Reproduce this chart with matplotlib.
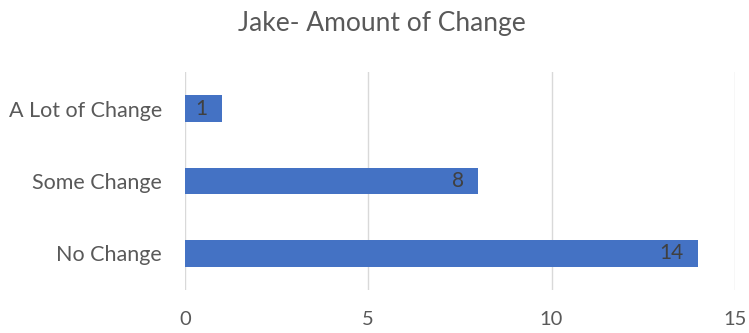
import matplotlib.pyplot as plt

categories = ['No Change', 'Some Change', 'A Lot of Change']
counts = [14, 8, 1]
xticks = [0, 5, 10, 15]

plt.rcParams['font.family'] = ['Lato', 'DejaVu Sans']

fig = plt.figure(figsize=(7.49, 3.33), dpi=100)
ax = fig.add_axes([0.247, 0.130, 0.734, 0.653])

ypos = list(range(len(categories)))
bars = ax.barh(ypos, counts, height=0.36, color='#4472C4', zorder=3)

# value labels sit just inside the end of each bar
for b, v in zip(bars, counts):
    ax.text(b.get_width() - 0.4, b.get_y() + b.get_height() / 2, str(v),
            ha='right', va='center', fontsize=15, color='#404040', zorder=4)

ax.set_xlim(0, 15)
ax.set_ylim(-0.5, 2.5)
ax.set_xticks(xticks)
ax.set_yticks(ypos)
ax.set_yticklabels(categories)
ax.grid(axis='x', color='#D9D9D9', linewidth=1, zorder=0)
ax.tick_params(axis='both', length=0, colors='#595959')
ax.tick_params(axis='x', pad=15, labelsize=14.5)
ax.tick_params(axis='y', pad=16.5, labelsize=15.5)
for s in ax.spines.values():
    s.set_visible(False)

fig.text(0.51, 0.928, 'Jake- Amount of Change', ha='center', va='center',
         fontsize=19, color='#595959')

fig.savefig('out.png', dpi=100, facecolor='white')
